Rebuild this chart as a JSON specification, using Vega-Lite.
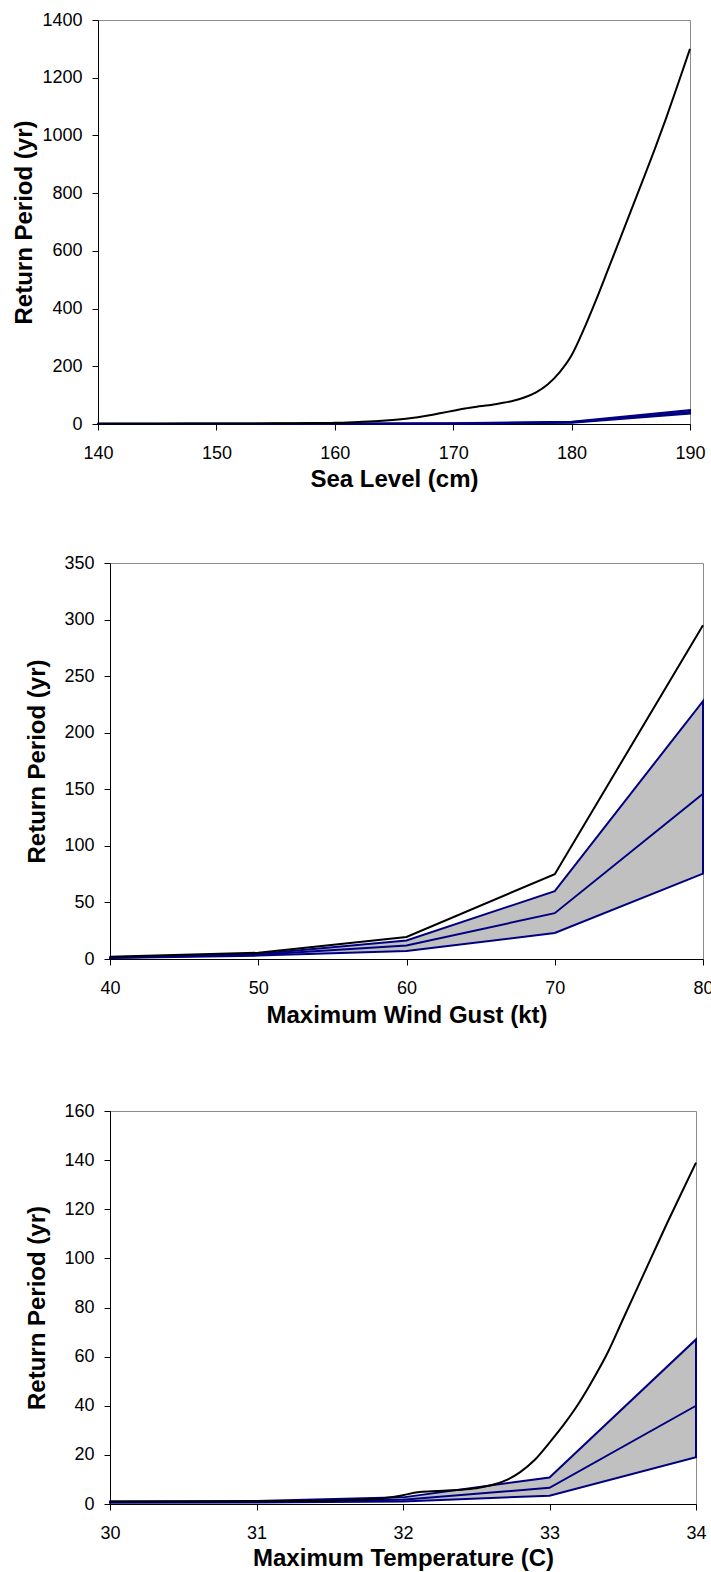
{
  "$schema": "https://vega.github.io/schema/vega-lite/v6.json",
  "padding": {"left": 10, "top": 10, "right": 0, "bottom": 0},
  "config": {
    "view": {"stroke": "#8c8c8c", "strokeWidth": 1},
    "axis": {
      "grid": false,
      "format": "d",
      "domainColor": "#000000",
      "domainWidth": 1,
      "tickColor": "#000000",
      "tickSize": 6,
      "tickWidth": 1,
      "labelFont": "Liberation Sans",
      "labelFontSize": 18,
      "labelColor": "#000000",
      "labelFlush": false,
      "labelOverlap": false,
      "titleFont": "Liberation Sans",
      "titleFontSize": 24,
      "titleFontWeight": "bold",
      "titleColor": "#000000",
      "titleBaseline": "middle"
    },
    "axisX": {"labelPadding": 14},
    "axisY": {"labelPadding": 10}
  },
  "datasets": {
    "seaObserved": [
      {"level": 140, "period": 1}, {"level": 145, "period": 1.2}, {"level": 150, "period": 1.5},
      {"level": 155, "period": 2.5}, {"level": 158, "period": 3.5}, {"level": 160, "period": 4},
      {"level": 162, "period": 7}, {"level": 164, "period": 11}, {"level": 166, "period": 18},
      {"level": 168, "period": 30}, {"level": 169, "period": 38}, {"level": 170, "period": 46},
      {"level": 171, "period": 54}, {"level": 172, "period": 60}, {"level": 173, "period": 65},
      {"level": 174, "period": 72}, {"level": 175, "period": 80}, {"level": 176, "period": 92},
      {"level": 177, "period": 110}, {"level": 178, "period": 138}, {"level": 179, "period": 180},
      {"level": 180, "period": 238}, {"level": 181, "period": 325}, {"level": 182, "period": 423},
      {"level": 183, "period": 527}, {"level": 184, "period": 632}, {"level": 185, "period": 738},
      {"level": 186, "period": 843}, {"level": 187, "period": 950}, {"level": 188, "period": 1062},
      {"level": 189, "period": 1180}, {"level": 190, "period": 1300}
    ],
    "seaRange": [
      {"level": 140, "low": 0.3, "mid": 0.5, "high": 0.8},
      {"level": 150, "low": 0.4, "mid": 0.6, "high": 1},
      {"level": 160, "low": 0.6, "mid": 1, "high": 1.5},
      {"level": 170, "low": 1, "mid": 1.8, "high": 2.8},
      {"level": 180, "low": 4, "mid": 6, "high": 8},
      {"level": 190, "low": 36, "mid": 42, "high": 48}
    ],
    "gustObserved": [
      {"gust": 40, "period": 2}, {"gust": 50, "period": 5.5}, {"gust": 60, "period": 19.5},
      {"gust": 70, "period": 75}, {"gust": 80, "period": 295}
    ],
    "gustRange": [
      {"gust": 40, "low": 0.8, "mid": 1.2, "high": 1.5},
      {"gust": 50, "low": 3, "mid": 3.8, "high": 4.5},
      {"gust": 60, "low": 7, "mid": 12, "high": 16.3},
      {"gust": 70, "low": 23, "mid": 40.5, "high": 60},
      {"gust": 80, "low": 75.5, "mid": 146, "high": 228}
    ],
    "tempObserved": [
      {"temp": 30, "period": 1}, {"temp": 30.5, "period": 1}, {"temp": 31, "period": 1.1},
      {"temp": 31.5, "period": 1.4}, {"temp": 31.8, "period": 2}, {"temp": 32, "period": 3.6},
      {"temp": 32.1, "period": 4.8}, {"temp": 32.2, "period": 5.2}, {"temp": 32.3, "period": 5.5},
      {"temp": 32.4, "period": 5.8}, {"temp": 32.5, "period": 6.4}, {"temp": 32.6, "period": 7.6},
      {"temp": 32.7, "period": 9.6}, {"temp": 32.8, "period": 13}, {"temp": 32.9, "period": 18},
      {"temp": 33, "period": 25}, {"temp": 33.1, "period": 32.5}, {"temp": 33.2, "period": 41},
      {"temp": 33.3, "period": 51}, {"temp": 33.4, "period": 62}, {"temp": 33.5, "period": 75},
      {"temp": 33.6, "period": 88}, {"temp": 33.7, "period": 101}, {"temp": 33.8, "period": 114},
      {"temp": 33.9, "period": 126.5}, {"temp": 34, "period": 139}
    ],
    "tempRange": [
      {"temp": 30, "low": 0.5, "mid": 0.8, "high": 1},
      {"temp": 31, "low": 0.6, "mid": 0.9, "high": 1.2},
      {"temp": 32, "low": 1.06, "mid": 1.75, "high": 2.7},
      {"temp": 33, "low": 3.4, "mid": 6.6, "high": 10.8},
      {"temp": 34, "low": 19, "mid": 40, "high": 67}
    ]
  },
  "spacing": 61,
  "vconcat": [
    {
      "spacing": 0,
      "hconcat": [
        {
          "width": 1,
          "height": 1,
          "view": {"stroke": null},
          "data": {"values": []},
          "mark": "point"
        },
        {
          "width": 592,
          "height": 404,
          "layer": [
            {
              "data": {"name": "seaRange"},
              "mark": {"type": "area", "fill": "#c0c0c0", "stroke": "#000080", "strokeWidth": 2, "opacity": 1},
              "encoding": {
                "x": {"field": "level", "type": "quantitative",
                      "scale": {"domain": [140, 190], "nice": false, "zero": false},
                      "axis": {"title": "Sea Level (cm)", "values": [140, 150, 160, 170, 180, 190], "titleY": 55}},
                "y": {"field": "low", "type": "quantitative",
                      "scale": {"domain": [0, 1400], "nice": false},
                      "axis": {"title": "Return Period (yr)", "values": [0, 200, 400, 600, 800, 1000, 1200, 1400], "titleX": -74}},
                "y2": {"field": "high"}
              }
            },
            {
              "data": {"name": "seaRange"},
              "mark": {"type": "line", "color": "#000080", "strokeWidth": 2},
              "encoding": {
                "x": {"field": "level", "type": "quantitative"},
                "y": {"field": "mid", "type": "quantitative"}
              }
            },
            {
              "data": {"name": "seaObserved"},
              "mark": {"type": "line", "color": "#000000", "strokeWidth": 2, "interpolate": "monotone"},
              "encoding": {
                "x": {"field": "level", "type": "quantitative"},
                "y": {"field": "period", "type": "quantitative"}
              }
            }
          ]
        }
      ]
    },
    {
      "spacing": 0,
      "hconcat": [
        {
          "width": 14,
          "height": 1,
          "view": {"stroke": null},
          "data": {"values": []},
          "mark": "point"
        },
        {
          "spacing": 73,
          "vconcat": [
            {
              "width": 593,
              "height": 396,
              "layer": [
                {
                  "data": {"name": "gustRange"},
                  "mark": {"type": "area", "fill": "#c0c0c0", "stroke": "#000080", "strokeWidth": 2, "opacity": 1},
                  "encoding": {
                    "x": {"field": "gust", "type": "quantitative",
                          "scale": {"domain": [40, 80], "nice": false, "zero": false},
                          "axis": {"title": "Maximum Wind Gust (kt)", "values": [40, 50, 60, 70, 80], "titleY": 56.5}},
                    "y": {"field": "low", "type": "quantitative",
                          "scale": {"domain": [0, 350], "nice": false},
                          "axis": {"title": "Return Period (yr)", "values": [0, 50, 100, 150, 200, 250, 300, 350], "titleX": -73}},
                    "y2": {"field": "high"}
                  }
                },
                {
                  "data": {"name": "gustRange"},
                  "mark": {"type": "line", "color": "#000080", "strokeWidth": 2},
                  "encoding": {
                    "x": {"field": "gust", "type": "quantitative"},
                    "y": {"field": "mid", "type": "quantitative"}
                  }
                },
                {
                  "data": {"name": "gustObserved"},
                  "mark": {"type": "line", "color": "#000000", "strokeWidth": 2},
                  "encoding": {
                    "x": {"field": "gust", "type": "quantitative"},
                    "y": {"field": "period", "type": "quantitative"}
                  }
                }
              ]
            },
            {
              "width": 586,
              "height": 393,
              "layer": [
                {
                  "data": {"name": "tempRange"},
                  "mark": {"type": "area", "fill": "#c0c0c0", "stroke": "#000080", "strokeWidth": 2, "opacity": 1},
                  "encoding": {
                    "x": {"field": "temp", "type": "quantitative",
                          "scale": {"domain": [30, 34], "nice": false, "zero": false},
                          "axis": {"title": "Maximum Temperature (C)", "values": [30, 31, 32, 33, 34], "titleY": 54}},
                    "y": {"field": "low", "type": "quantitative",
                          "scale": {"domain": [0, 160], "nice": false},
                          "axis": {"title": "Return Period (yr)", "values": [0, 20, 40, 60, 80, 100, 120, 140, 160], "titleX": -73}},
                    "y2": {"field": "high"}
                  }
                },
                {
                  "data": {"name": "tempRange"},
                  "mark": {"type": "line", "color": "#000080", "strokeWidth": 2},
                  "encoding": {
                    "x": {"field": "temp", "type": "quantitative"},
                    "y": {"field": "mid", "type": "quantitative"}
                  }
                },
                {
                  "data": {"name": "tempObserved"},
                  "mark": {"type": "line", "color": "#000000", "strokeWidth": 2, "interpolate": "monotone"},
                  "encoding": {
                    "x": {"field": "temp", "type": "quantitative"},
                    "y": {"field": "period", "type": "quantitative"}
                  }
                }
              ]
            }
          ]
        }
      ]
    }
  ]
}
